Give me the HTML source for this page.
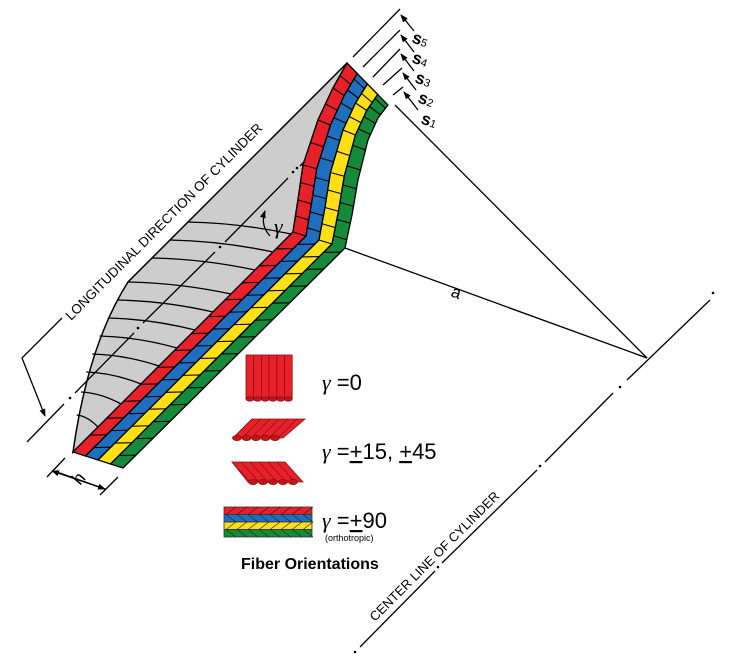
<!DOCTYPE html>
<html><head><meta charset="utf-8"><style>
html,body{margin:0;padding:0;background:#fff;}
svg{display:block;font-family:"Liberation Sans",sans-serif;}
</style></head><body>
<svg id="s" width="730" height="658" viewBox="0 0 730 658" xmlns="http://www.w3.org/2000/svg">
<defs>
<marker id="ar" markerWidth="8" markerHeight="8" refX="7" refY="4" orient="auto" markerUnits="userSpaceOnUse"><path d="M0,1 L8,4 L0,7 z" fill="#000"/></marker>
</defs>
<path d="M73,452 Q88,345 128,282 L347,63 L333,88 L318,120 L303,165 L298,200 L293,232 Z" fill="#cdcdcd" stroke="#000" stroke-width="1.5"/>
<g id="grid" stroke="#000" stroke-width="1.3" fill="none"></g>
<g stroke="#000" stroke-width="1.3">
<line x1="27" y1="442" x2="64" y2="404"/><line x1="75" y1="393" x2="134" y2="333"/><line x1="143" y1="323" x2="215" y2="252"/><line x1="225" y1="242" x2="288" y2="178"/><line x1="300" y1="166" x2="353" y2="112"/>
</g>
<g fill="#000"><circle cx="70" cy="398" r="1.3"/><circle cx="138" cy="328" r="1.3"/><circle cx="220" cy="247" r="1.3"/><circle cx="293" cy="172" r="1.3"/><circle cx="297" cy="168" r="1.3"/></g>
<g id="strip"></g>
<path d="M270,236 Q260,225 265,211" fill="none" stroke="#000" stroke-width="1.3" marker-end="url(#ar)"/>
<text x="274" y="234" font-family="Liberation Serif,serif" font-style="italic" font-size="22">γ</text>
<g stroke="#000" stroke-width="1.3" fill="none">
<polyline points="62,318 22,358 45,416" marker-end="url(#ar)"/>
</g>
<text transform="translate(71,321) rotate(-45)" font-size="13.5">LONGITUDINAL DIRECTION OF CYLINDER</text>
<g stroke="#000" stroke-width="1.3" fill="none">
<line x1="65" y1="458" x2="47" y2="477"/><line x1="118" y1="477" x2="100" y2="495"/>
<line x1="54" y1="471" x2="105" y2="489" marker-end="url(#ar)"/>
<line x1="105" y1="489" x2="52" y2="471" marker-end="url(#ar)"/>
</g>
<text transform="translate(80,486) rotate(-50)" font-size="18">h</text>
<g stroke="#000" stroke-width="1.3" fill="none">
<line x1="353" y1="57" x2="400" y2="9"/><line x1="363" y1="67" x2="400" y2="30"/><line x1="373" y1="77" x2="400" y2="49"/><line x1="383" y1="85" x2="402" y2="68"/><line x1="393" y1="95" x2="403" y2="87"/>
<line x1="414" y1="31" x2="401" y2="15" marker-end="url(#ar)"/>
<line x1="414" y1="52" x2="401" y2="35" marker-end="url(#ar)"/>
<line x1="414" y1="71" x2="401" y2="54" marker-end="url(#ar)"/>
<line x1="416" y1="90" x2="403" y2="73" marker-end="url(#ar)"/>
<line x1="418" y1="110" x2="404" y2="92" marker-end="url(#ar)"/>
<line x1="395" y1="105" x2="647" y2="358"/>
<line x1="345" y1="248" x2="647" y2="358"/>
</g>
<g font-weight="bold" font-size="17">
<text transform="translate(411,42) rotate(20)">s<tspan font-size="11" font-weight="normal">5</tspan></text>
<text transform="translate(411,62) rotate(20)">s<tspan font-size="11" font-weight="normal">4</tspan></text>
<text transform="translate(414,82) rotate(20)">s<tspan font-size="11" font-weight="normal">3</tspan></text>
<text transform="translate(417,102) rotate(20)">s<tspan font-size="11" font-weight="normal">2</tspan></text>
<text transform="translate(420,123) rotate(20)">s<tspan font-size="11" font-weight="normal">1</tspan></text>
</g>
<text transform="translate(450,296) rotate(20)" font-size="17">a</text>
<g stroke="#000" stroke-width="1.3">
<line x1="360" y1="647" x2="435" y2="571"/><line x1="442" y1="563" x2="537" y2="470"/><line x1="545" y1="462" x2="613" y2="393"/><line x1="627" y1="380" x2="710" y2="300"/>
</g>
<g fill="#000"><circle cx="355" cy="652" r="1.3"/><circle cx="438" cy="567" r="1.3"/><circle cx="540" cy="466" r="1.3"/><circle cx="620" cy="387" r="1.3"/><circle cx="713" cy="293" r="1.3"/></g>
<text transform="translate(375,622) rotate(-45)" font-size="13">CENTER LINE OF CYLINDER</text>
<g id="rods0"></g>
<polygon points="252,419 305,419 283,438 233,438" fill="#e8202a" stroke="#8a1010" stroke-width="0.8"/>
<g id="rods1"></g>
<polygon points="232,462 285,462 303,482 248,482" fill="#e8202a" stroke="#8a1010" stroke-width="0.8"/>
<g id="rods2"></g>
<g stroke="#333" stroke-width="0.8">
<rect x="224" y="507" width="88" height="7.5" fill="#e8202a"/>
<rect x="224" y="514.5" width="88" height="7.5" fill="#1f6fc0"/>
<rect x="224" y="522" width="88" height="7.5" fill="#ffe014"/>
<rect x="224" y="529.5" width="88" height="7.5" fill="#158a3a"/>
</g>
<g id="chev" stroke="#222" stroke-width="0.6"></g>
<g font-size="22">
<text x="322" y="390"><tspan font-family="Liberation Serif,serif" font-style="italic">γ</tspan> =0</text>
<text x="322" y="459"><tspan font-family="Liberation Serif,serif" font-style="italic">γ</tspan> =<tspan text-decoration="underline">+</tspan>15, <tspan text-decoration="underline">+</tspan>45</text>
<text x="322" y="528"><tspan font-family="Liberation Serif,serif" font-style="italic">γ</tspan> =<tspan text-decoration="underline">+</tspan>90</text>
</g>
<text x="325" y="541" font-size="9">(orthotropic)</text>
<text x="241" y="569" font-size="16" font-weight="bold">Fiber Orientations</text>
</svg>
<script>
var NS="http://www.w3.org/2000/svg";
function el(p,t,a){var e=document.createElementNS(NS,t);for(var k in a)e.setAttribute(k,a[k]);p.appendChild(e);return e;}
var C0=[[73,452],[293,232],[298,200],[303,165],[318,120],[333,88],[347,63]];
var C4=[[123,468],[345,248],[352,215],[358,180],[368,140],[378,118],[388,105]];
var B=[];for(var j=0;j<5;j++){var t=j/4;B.push(C0.map(function(p,i){return[p[0]+(C4[i][0]-p[0])*t,p[1]+(C4[i][1]-p[1])*t];}));}
function at(b,u){var i=Math.min(Math.floor(u),5);var f=u-i;return[b[i][0]+(b[i+1][0]-b[i][0])*f,b[i][1]+(b[i+1][1]-b[i][1])*f];}
var cols=["#e8202a","#1f6fc0","#ffe014","#158a3a"];
var S=document.getElementById("strip");
for(var j=0;j<4;j++){var pts=B[j].concat(B[j+1].slice().reverse());el(S,"polygon",{points:pts.map(function(p){return p.join(",")}).join(" "),fill:cols[j],stroke:"#000","stroke-width":"1.3"});}
for(var j=0;j<4;j++){var off=(j%2)*0.5;
 for(var k=0;k<13;k++){var u=(k+off)/13;if(u<=0||u>=1)continue;var a=at(B[j],u),b=at(B[j+1],Math.min(u+0.02,1));el(S,"line",{x1:a[0],y1:a[1],x2:b[0],y2:b[1],stroke:"#000","stroke-width":"1.1"});}
 for(var u=1+off*0.5;u<6;u+=0.5){var a=at(B[j],u),b=at(B[j+1],u);el(S,"line",{x1:a[0],y1:a[1],x2:b[0],y2:b[1],stroke:"#000","stroke-width":"1.1"});}
}
var G=document.getElementById("grid");
var ys=[222,240,258,282,300,318,336,354,372,392,415];
ys.forEach(function(yl){var xl;if(yl<=282)xl=128+(282-yl);else{var f=(yl-282)/170;xl=128-55*(1-(1-f)*(1-f))*0.95-2*f;}
 var yr=yl+12,xr=73+(452-yr);var mx=(xl+xr)/2,my=(yl+yr)/2-5;
 el(G,"path",{d:"M"+xl+","+yl+" Q"+mx+","+my+" "+xr+","+yr});});
var R0=document.getElementById("rods0");
for(var i=0;i<6;i++){var x=246+i*7.7;el(R0,"rect",{x:x,y:355,width:7.7,height:44,fill:"#e8202a",stroke:"#8a1010","stroke-width":"0.8"});el(R0,"ellipse",{cx:x+3.85,cy:399,rx:3.85,ry:2.2,fill:"#c4151d",stroke:"#8a1010","stroke-width":"0.8"});}
var R1=document.getElementById("rods1");
for(var i=0;i<6;i++){el(R1,"line",{x1:252+i*9,y1:419,x2:233+i*9,y2:438,stroke:"#8a1010","stroke-width":"0.7"});}
var Rs1=[];for(var i=0;i<5;i++){Rs1.push([237+i*9.5,438]);}
var R2=document.getElementById("rods2");
for(var i=0;i<6;i++){el(R2,"line",{x1:232+i*9,y1:462,x2:250+i*9,y2:482,stroke:"#8a1010","stroke-width":"0.7"});}
document.getElementById("s").appendChild(R2);
Rs1.forEach(function(p){el(document.getElementById("s"),"ellipse",{cx:p[0],cy:p[1],rx:4.5,ry:2.6,fill:"#c4151d",stroke:"#8a1010","stroke-width":"0.8"});});
for(var i=0;i<5;i++){el(document.getElementById("s"),"ellipse",{cx:253+i*10,cy:482,rx:4.5,ry:2.6,fill:"#c4151d",stroke:"#8a1010","stroke-width":"0.8"});}
var CH=document.getElementById("chev");
for(var r=0;r<4;r++){var y0=507+r*7.5;for(var i=0;i<8;i++){var x=226+i*11;if(r%2==0)el(CH,"line",{x1:x,y1:y0+7.5,x2:x+10,y2:y0});else el(CH,"line",{x1:x,y1:y0,x2:x+10,y2:y0+7.5});}}
</script>
</body></html>
